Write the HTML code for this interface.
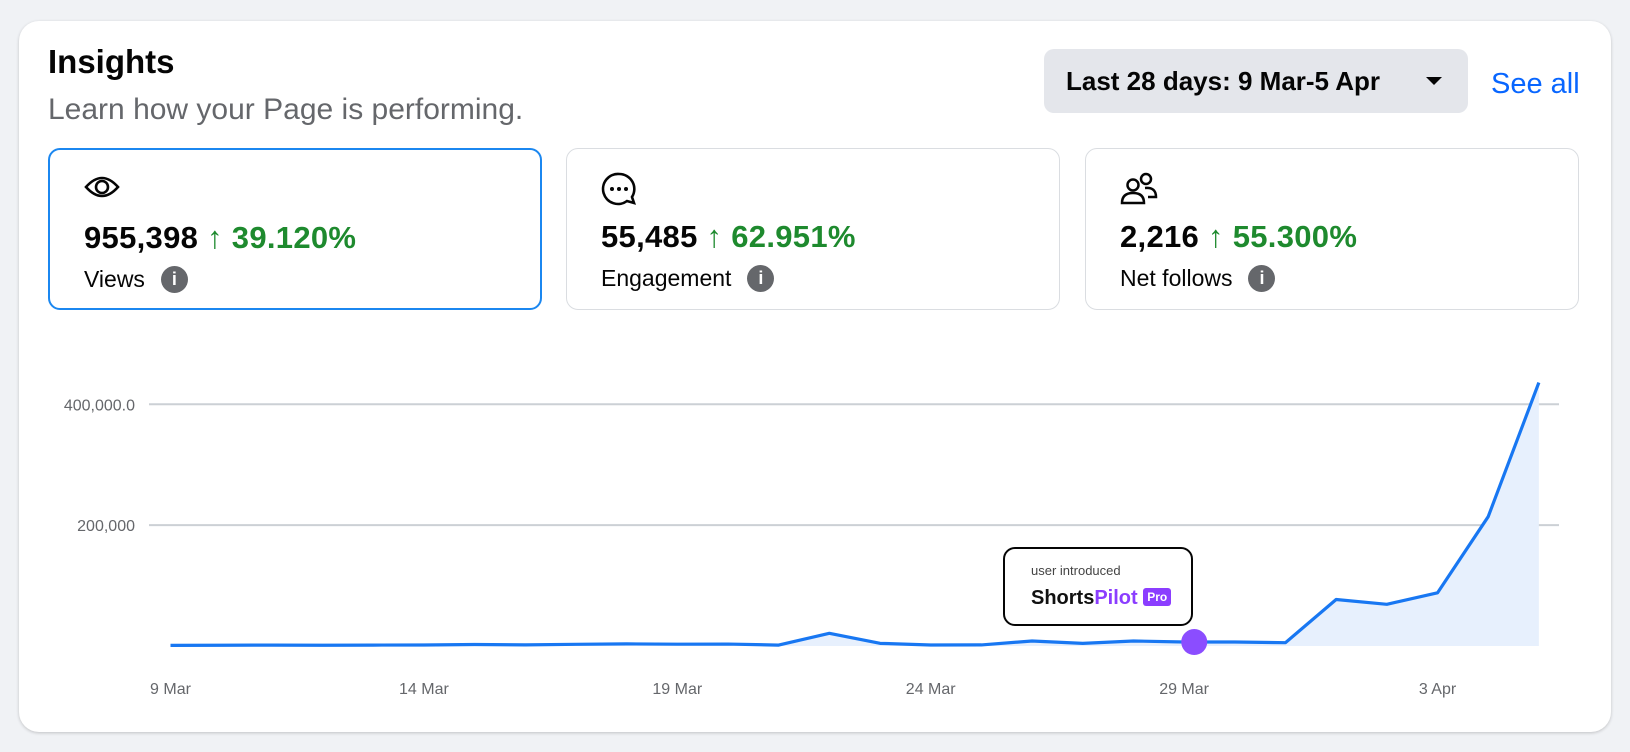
<!DOCTYPE html>
<html><head><meta charset="utf-8"><style>
body{margin:0;width:1630px;height:752px;background:#f0f2f5;font-family:"Liberation Sans",sans-serif;position:relative;overflow:hidden}
.card{position:absolute;left:19px;top:21px;width:1592px;height:711px;background:#fff;border-radius:20px;box-shadow:0 1px 3px rgba(0,0,0,.2)}
.abs{position:absolute}
.m{position:absolute;top:148px;height:162px;width:494px;border:1px solid #dadde1;border-radius:12px;box-sizing:border-box;background:#fff}
.m.sel{border:2px solid #1b87f0}
.num{position:absolute;left:34px;top:70px;font-size:31px;font-weight:600;color:#050505;white-space:nowrap;letter-spacing:0.3px}
.num span{color:#1e8a2e}
.lab{position:absolute;left:34px;top:116px;font-size:23px;color:#050505;display:flex;align-items:center;gap:16px}
.info{width:27px;height:27px;border-radius:50%;background:#65676b;color:#fff;font-size:18px;font-weight:bold;text-align:center;line-height:27px;font-family:"Liberation Sans",sans-serif}
.ico{position:absolute;left:34px;top:22px}
</style></head><body>
<div class="card"></div>
<div class="abs" style="left:48px;top:43px;font-size:33px;font-weight:bold;color:#050505">Insights</div>
<div class="abs" style="left:48px;top:93px;font-size:30px;color:#65676b">Learn how your Page is performing.</div>
<div class="abs" style="left:1044px;top:49px;width:424px;height:64px;background:#e4e6eb;border-radius:10px;font-size:26px;font-weight:600;color:#050505;line-height:64px;box-sizing:border-box;padding-left:22px">Last 28 days: 9 Mar-5 Apr <span style="position:absolute;right:26px;top:28px;width:0;height:0;border-left:8px solid transparent;border-right:8px solid transparent;border-top:8px solid #050505"></span></div>
<div class="abs" style="left:1491px;top:68px;font-size:29px;color:#0866ff">See all</div>

<div class="m sel" style="left:48px">
<svg class="ico" width="36" height="30" viewBox="0 0 36 30"><path d="M2 15 Q18 -3 34 15 Q18 33 2 15Z" fill="none" stroke="#050505" stroke-width="2.6"/><circle cx="18" cy="15" r="6" fill="none" stroke="#050505" stroke-width="2.6"/></svg>
<div class="num">955,398 <span>↑ 39.120%</span></div>
<div class="lab">Views <div class="info">i</div></div></div>

<div class="m" style="left:566px">
<svg class="ico" width="36" height="36" viewBox="0 0 36 36"><path d="M18 3 A15 15 0 1 0 26 30 L33 32 L31 26 A15 15 0 0 0 18 3Z" fill="none" stroke="#050505" stroke-width="2.6"/><circle cx="11" cy="18" r="2" fill="#050505"/><circle cx="18" cy="18" r="2" fill="#050505"/><circle cx="25" cy="18" r="2" fill="#050505"/></svg>
<div class="num">55,485 <span>↑ 62.951%</span></div>
<div class="lab">Engagement <div class="info">i</div></div></div>

<div class="m" style="left:1085px">
<svg class="ico" width="38" height="34" viewBox="0 0 38 34"><circle cx="13" cy="14" r="5.5" fill="none" stroke="#050505" stroke-width="2.5"/><path d="M2 32 Q2 22 13 22 Q24 22 24 32 Z" fill="none" stroke="#050505" stroke-width="2.5"/><circle cx="26" cy="8" r="5" fill="none" stroke="#050505" stroke-width="2.5"/><path d="M25 17 Q36 16 36 26 L28 26" fill="none" stroke="#050505" stroke-width="2.5"/></svg>
<div class="num">2,216 <span>↑ 55.300%</span></div>
<div class="lab">Net follows <div class="info">i</div></div></div>

<svg id="chart" class="abs" style="left:0;top:0" width="1630" height="752"></svg>

<div class="abs" style="left:1003px;top:547px;width:190px;height:79px;border:2px solid #050505;border-radius:12px;background:#fff;box-sizing:border-box">
<div class="abs" style="left:26px;top:14px;font-size:13px;color:#444">user introduced</div>
<div class="abs" style="left:26px;top:38px;font-size:20px;font-weight:bold;color:#111;white-space:nowrap">Shorts<span style="color:#8b3dff">Pilot</span> <span style="display:inline-block;background:#8b3dff;color:#fff;font-size:12px;padding:2px 4px;border-radius:3px;vertical-align:3px">Pro</span></div>
</div>

<script>
const labels=["9 Mar","10 Mar","11 Mar","12 Mar","13 Mar","14 Mar","15 Mar","16 Mar","17 Mar","18 Mar","19 Mar","20 Mar","21 Mar","22 Mar","23 Mar","24 Mar","25 Mar","26 Mar","27 Mar","28 Mar","29 Mar","30 Mar","31 Mar","1 Apr","2 Apr","3 Apr","4 Apr","5 Apr"];
const views=[1000,1200,1500,1300,1500,1600,2500,1800,2800,3500,3000,3200,1500,21000,4400,1700,1800,8300,4400,8300,6600,6600,5500,77000,69000,88000,214000,436000];
const yTicks=[200000,400000];
const yTickLabels=["200,000","400,000.0"];
const xTickIdx=[0,5,10,15,20,25];
const markerPos=20.2;
const NS="http://www.w3.org/2000/svg";
const svg=document.getElementById('chart');
const X=i=>170.5+i*50.68;
const Y=v=>646-v*(241.7/400000);
function mk(t,a){const e=document.createElementNS(NS,t);for(const k in a)e.setAttribute(k,a[k]);svg.appendChild(e);return e;}
yTicks.forEach((t,i)=>{
const g=mk('line',{x1:149,x2:1559,y1:Y(t),y2:Y(t),stroke:'#ccd0d5','stroke-width':2});


const tx=mk('text',{x:135,y:Y(t)+6,'text-anchor':'end','font-size':16,fill:'#65676b','font-family':'Liberation Sans, sans-serif'});
tx.textContent=yTickLabels[i];


});
let d='M'+X(0)+','+Y(0);views.forEach((v,i)=>d+=' L'+X(i)+','+Y(v));d+=' L'+X(views.length-1)+','+Y(0)+'Z';
const area=mk('path',{d:d,fill:'#e7f0fd'});


const line=mk('polyline',{points:views.map((v,i)=>X(i)+','+Y(v)).join(' '),fill:'none',stroke:'#1877f2','stroke-width':3.2,'stroke-linejoin':'round'});


xTickIdx.forEach(i=>{
const tx=mk('text',{x:X(i),y:694,'text-anchor':'middle','font-size':16,fill:'#65676b','font-family':'Liberation Sans, sans-serif'});
tx.textContent=labels[i];


});
const mi=Math.floor(markerPos);
const dot=mk('circle',{cx:X(markerPos),cy:Y(views[mi]),r:13,fill:'#8b4dff'});


</script>
</body></html>
